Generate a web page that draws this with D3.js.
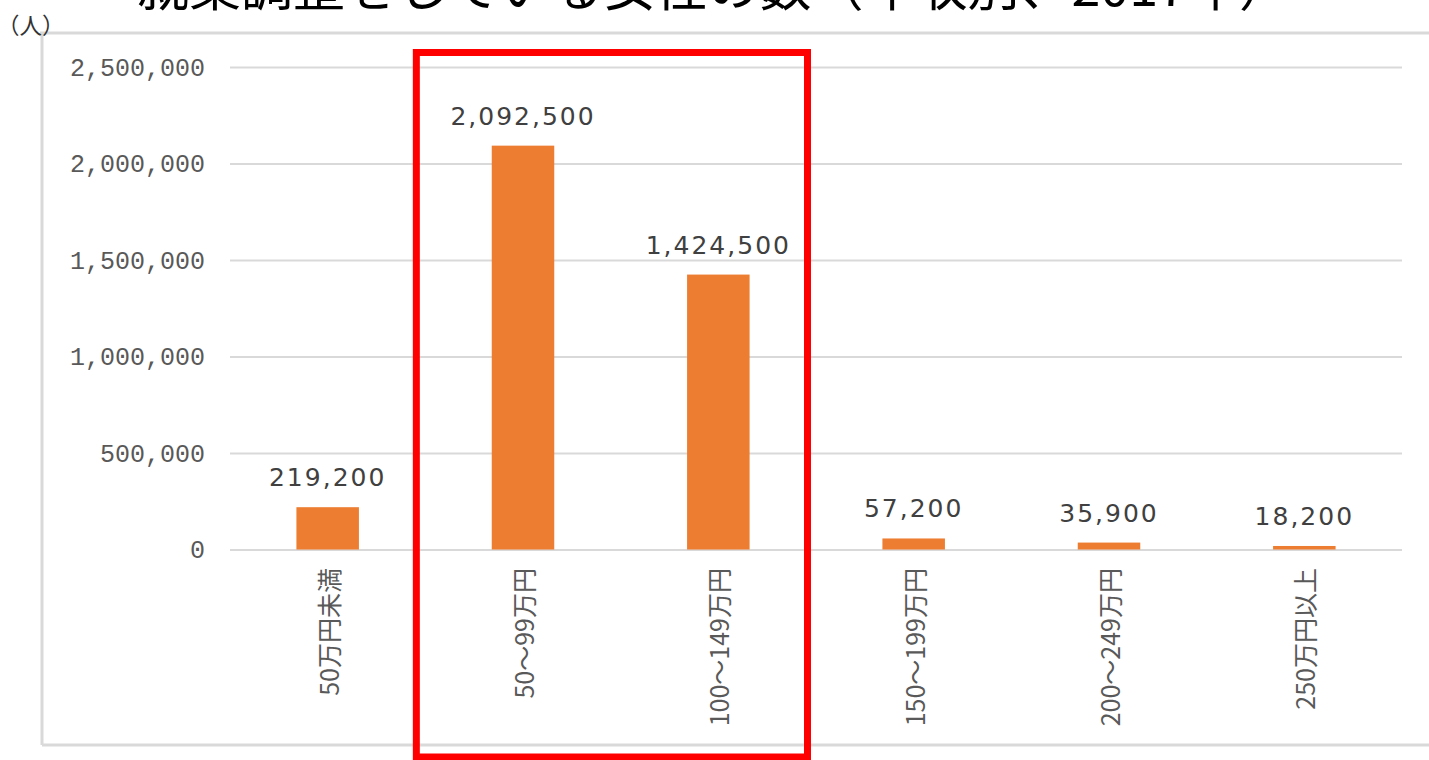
<!DOCTYPE html>
<html>
<head>
<meta charset="utf-8">
<script src="https://cdn.jsdelivr.net/npm/d3@7"></script>
<style>
  body { margin: 0; background: #fff; }
</style>
</head>
<body>
<div id="chart"></div>
<script>
// data
const categories = ["50万円未満", "50～99万円", "100～149万円", "150～199万円", "200～249万円", "250万円以上"];
const values = [219200, 2092500, 1424500, 57200, 35900, 18200];
const yTicks = [0, 500000, 1000000, 1500000, 2000000, 2500000];
const highlighted = ["50～99万円", "100～149万円"];
const title = "就業調整をしている女性の数（年収別、2017年）";
const unitLabel = "（人）";

const W = 1429, H = 760;
const plot = {left: 230, right: 1402, top: 67, bottom: 549.5};

const svg = d3.select("#chart")
  .append("svg")
    .attr("width", W)
    .attr("height", H);

// outer frame (partially cut)
const frameColor = "#d9d9d9";
svg.append("line")
  .attr("x1", 40).attr("x2", W).attr("y1", 33).attr("y2", 33)
  .attr("stroke", frameColor).attr("stroke-width", 3);
svg.append("line")
  .attr("x1", 42).attr("x2", 42).attr("y1", 33).attr("y2", 745)
  .attr("stroke", frameColor).attr("stroke-width", 3);
svg.append("line")
  .attr("x1", 42).attr("x2", W).attr("y1", 745).attr("y2", 745)
  .attr("stroke", frameColor).attr("stroke-width", 3);

// title (top cut off in the source picture)
svg.append("text")
  .attr("x", 714)
  .attr("y", 6)
  .attr("text-anchor", "middle")
  .style("font-family", "'Noto Sans CJK JP', sans-serif")
  .style("font-size", "52px")
  .style("font-weight", 400)
  .style("fill", "#000")
  .text(title);

svg.append("text")
  .attr("x", -3)
  .attr("y", 34)
  .style("font-family", "'Noto Sans CJK JP', sans-serif")
  .style("font-size", "22.5px")
  .style("fill", "#333")
  .text(unitLabel);

// scales
const x = d3.scaleBand()
  .domain(categories)
  .range([plot.left, plot.right])
  .paddingInner(0.68)
  .paddingOuter(0.34);

const xBand = d3.scaleBand()
  .domain(categories)
  .range([plot.left, plot.right])
  .padding(0);

const y = d3.scaleLinear()
  .domain([0, 2500000])
  .range([plot.bottom, plot.top]);

// grid lines + y axis labels
const yAxis = svg.append("g")
  .attr("transform", `translate(${plot.left},0)`)
  .call(d3.axisLeft(y)
    .tickValues(yTicks)
    .tickSize(-(plot.right - plot.left))
    .tickPadding(25)
    .tickFormat(d3.format(",")));
yAxis.select(".domain").remove();
yAxis.selectAll(".tick line")
  .attr("stroke", "#d9d9d9")
  .attr("stroke-width", 2);
yAxis.selectAll(".tick text")
  .style("font-family", "'Liberation Mono', monospace")
  .style("font-size", "25px")
  .style("fill", "#595959");

// bars
svg.selectAll(".bar")
  .data(values)
  .enter().append("rect")
  .attr("class", "bar")
  .attr("x", (d, i) => x(categories[i]))
  .attr("y", d => y(d))
  .attr("width", x.bandwidth())
  .attr("height", d => y(0) - y(d))
  .attr("fill", "#ed7d31");

// value labels
svg.selectAll(".val")
  .data(values)
  .enter().append("text")
  .attr("class", "val")
  .attr("x", (d, i) => x(categories[i]) + x.bandwidth() / 2)
  .attr("y", d => y(d) - 21)
  .attr("text-anchor", "middle")
  .style("font-family", "'DejaVu Sans', sans-serif")
  .style("font-size", "25px")
  .style("letter-spacing", "2px")
  .style("fill", "#404040")
  .text(d => d3.format(",")(d));

// category labels (rotated)
svg.selectAll(".cat")
  .data(categories)
  .enter().append("text")
  .attr("class", "cat")
  .attr("transform", d => `translate(${x(d) + x.bandwidth() / 2},568) rotate(-90)`)
  .attr("text-anchor", "end")
  .attr("dominant-baseline", "central")
  .style("font-family", "'Noto Sans CJK JP', sans-serif")
  .style("font-size", "25px")
  .style("fill", "#595959")
  .text(d => d);

// red highlight box
const boxLeft = xBand(highlighted[0]) - 9;
const boxRight = xBand(highlighted[1]) + xBand.bandwidth() - 8.5;
svg.append("rect")
  .attr("x", boxLeft)
  .attr("y", 52.5)
  .attr("width", boxRight - boxLeft)
  .attr("height", 704.5)
  .attr("fill", "none")
  .attr("stroke", "#ff0000")
  .attr("stroke-width", 7);
</script>
</body>
</html>
